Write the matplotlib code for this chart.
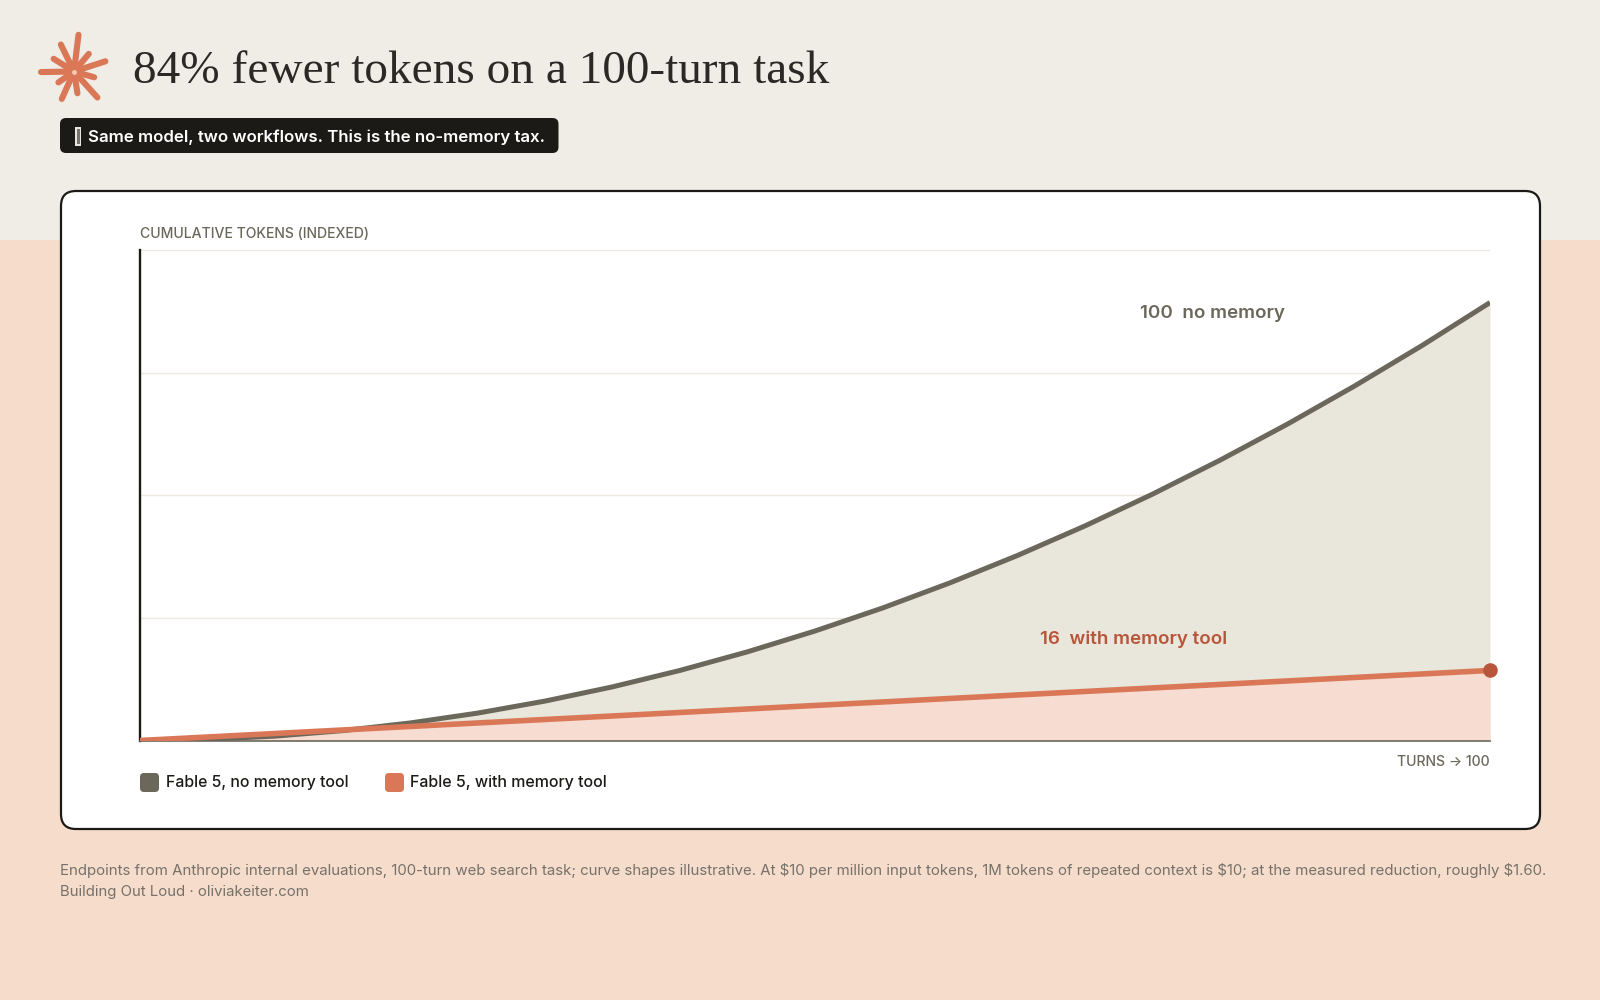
import numpy as np
import matplotlib
matplotlib.use('Agg')
import matplotlib.pyplot as plt
from matplotlib.patches import FancyBboxPatch, Rectangle

turns = [0, 5, 10, 15, 20, 25, 30, 35, 40, 45, 50, 55, 60, 65, 70, 75, 80, 85, 90, 95, 100]
no_memory = [0, 0.25, 1, 2.25, 4, 6.25, 9, 12.25, 16, 20.25, 25, 30.25, 36, 42.25, 49, 56.25, 64, 72.25, 81, 90.25, 100]
with_memory = [0, 0.8, 1.6, 2.4, 3.2, 4, 4.8, 5.6, 6.4, 7.2, 8, 8.8, 9.6, 10.4, 11.2, 12, 12.8, 13.6, 14.4, 15.2, 16]
y_grid = [0, 28, 56, 84, 112]

# logo rays, angle in degrees and length in px
ray_angles = [83, 116, 148, 50, 18, 181, 215, -16, -48, -81, -114]
ray_lengths = [37, 30, 24, 23, 33, 33, 19, 21, 35, 22, 30]

TITLE = '84% fewer tokens on a 100-turn task'
PILL = 'Same model, two workflows. This is the no-memory tax.'
FOOT1 = ('Endpoints from Anthropic internal evaluations, 100-turn web search task; curve shapes illustrative. '
         'At \\$10 per million input tokens, 1M tokens of repeated context is \\$10; at the measured reduction, roughly \\$1.60.')
FOOT2 = 'Building Out Loud · oliviakeiter.com'

INK = '#1C1A17'
GREY = '#6B675B'
CORAL = '#D97757'
RUST = '#B8553A'

plt.rcParams['font.family'] = ['Inter', 'DejaVu Sans']


def main():
    fig = plt.figure(figsize=(16, 10), dpi=100, facecolor='#F5DCCB')

    # page layer in pixel coordinates
    bg = fig.add_axes([0, 0, 1, 1], zorder=0)
    bg.set_xlim(0, 1600)
    bg.set_ylim(1000, 0)
    bg.axis('off')
    bg.add_patch(Rectangle((0, 0), 1600, 240, fc='#F0EDE6', ec='none'))
    bg.add_patch(FancyBboxPatch((61, 191), 1479, 638, boxstyle='round,pad=0,rounding_size=15',
                                fc='white', ec=INK, lw=1.6))
    bg.add_patch(FancyBboxPatch((60, 118), 498.5, 35, boxstyle='round,pad=0,rounding_size=6',
                                fc=INK, ec='none'))
    bg.add_patch(Rectangle((75, 127), 6, 19, fc='#E8E6E0', ec='none'))
    bg.add_patch(Rectangle((76.5, 129), 3, 15, fc='#77736A', ec='none'))

    cx, cy = 74, 71.5
    for a, l in zip(ray_angles, ray_lengths):
        bg.plot([cx, cx + l * np.cos(np.radians(a))], [cy, cy - l * np.sin(np.radians(a))],
                color=CORAL, lw=4.4, solid_capstyle='round')
    bg.plot([cx], [cy], 'o', color='#F5C9B5', ms=2.5)

    bg.text(133, 71.5, TITLE, fontsize=34, family=['Liberation Serif'], color='#2B2926', va='center', ha='left')
    bg.text(88.5, 137, PILL, fontsize=12.15, fontweight=600, color='white', va='center', ha='left')
    bg.text(140, 234, 'CUMULATIVE TOKENS (INDEXED)', fontsize=10.1, fontweight=500, color=GREY, va='center')
    bg.text(1490, 762, 'TURNS → 100', fontsize=10.1, fontweight=500, color=GREY, va='center', ha='right')

    bg.add_patch(FancyBboxPatch((140, 773), 19, 19, boxstyle='round,pad=0,rounding_size=4', fc=GREY, ec='none'))
    bg.add_patch(FancyBboxPatch((385, 773), 19, 19, boxstyle='round,pad=0,rounding_size=4', fc=CORAL, ec='none'))
    bg.text(166, 782.5, 'Fable 5, no memory tool', fontsize=11.4, fontweight=500, color=INK, va='center')
    bg.text(410, 782.5, 'Fable 5, with memory tool', fontsize=11.5, fontweight=500, color=INK, va='center')

    bg.text(60, 870.5, FOOT1, fontsize=10.79, color='#77716A', va='center')
    bg.text(60, 892, FOOT2, fontsize=10.75, color='#77716A', va='center')

    # chart
    ax = fig.add_axes([140 / 1600, 259.5 / 1000, 1350 / 1600, 490.5 / 1000], zorder=1)
    ax.patch.set_alpha(0)
    ax.set_xlim(0, 100)
    ax.set_ylim(0, 112)
    ax.set_xticks([])
    ax.set_yticks(y_grid)
    ax.tick_params(left=False, labelleft=False)
    ax.grid(axis='y', color='#EEEAE3', lw=1)
    ax.set_axisbelow(True)
    for side in ['top', 'right']:
        ax.spines[side].set_visible(False)
    ax.spines['left'].set_color(INK)
    ax.spines['left'].set_linewidth(1.7)
    ax.spines['bottom'].set_color(GREY)
    ax.spines['bottom'].set_linewidth(1.2)

    ax.fill_between(turns, no_memory, color='#E9E6DB', lw=0, zorder=2)
    ax.fill_between(turns, with_memory, color='#F6DCD1', lw=0, zorder=2.1)
    ax.plot(turns, no_memory, color=GREY, lw=3.6, zorder=3, solid_capstyle='butt')
    ax.plot(turns, with_memory, color=CORAL, lw=4, zorder=3.1, solid_capstyle='butt')
    ax.plot(turns[-1], with_memory[-1], 'o', color=RUST, ms=10.5, mew=0, clip_on=False, zorder=4)

    ax.text(74.07, 97.6, '100  no memory', fontsize=13.5, fontweight=600, color=GREY, va='center', ha='left')
    ax.text(66.7, 23.2, '16  with memory tool', fontsize=13.5, fontweight=600, color=RUST, va='center', ha='left')

    plt.savefig('out.png', dpi=100)


if __name__ == '__main__':
    main()
